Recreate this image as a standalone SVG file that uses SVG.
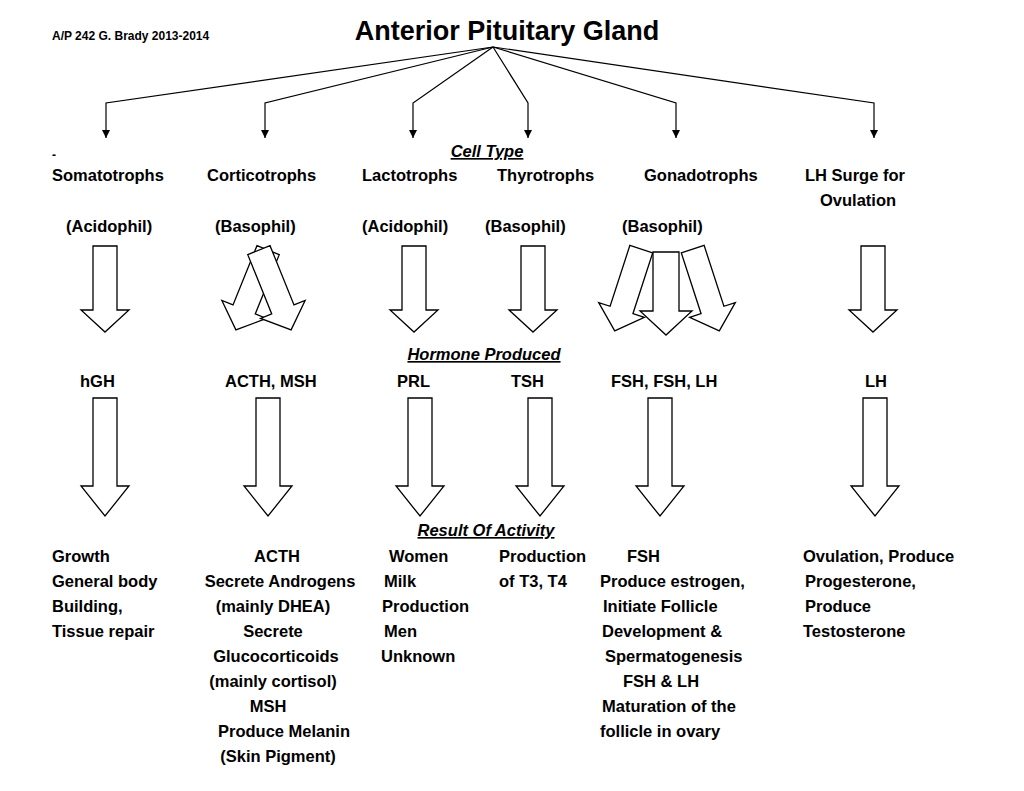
<svg xmlns="http://www.w3.org/2000/svg" width="1024" height="791" viewBox="0 0 1024 791">
<style>
text{font-family:"Liberation Sans",Arial,sans-serif;font-weight:bold;font-size:16.5px;fill:#000}
.t{font-size:27px}
.s{font-size:12px}
.h{font-style:italic;text-decoration:underline}
.ba{fill:#fff;stroke:#000;stroke-width:1.3}
.c{fill:none;stroke:#000;stroke-width:1.2}
</style>
<defs>
<marker id="ah" markerWidth="8" markerHeight="8" refX="4" refY="7" orient="auto-start-reverse" markerUnits="userSpaceOnUse" viewBox="0 0 8 8"><path d="M0,0 L8,0 L4,8z" transform="rotate(-90 4 4)" fill="#000"/></marker>
<path id="sa" d="M-12,-43 H12 V21 H24 L0,43 L-24,21 H-12 Z"/>
<path id="la" d="M-12,-59 H12 V29 H24 L0,59 L-24,29 H-12 Z"/>
</defs>
<rect width="1024" height="791" fill="#fff"/>
<g id="header">
<text x="52" y="40" class="s">A/P 242 G. Brady 2013-2014</text>
<text x="507" y="40" class="t" text-anchor="middle">Anterior Pituitary Gland</text>
</g>
<g id="connectors">
<path class="c" d="M493,47 L106,103 V138"/>
<path class="c" d="M493,47 L265,103 V138"/>
<path class="c" d="M493,47 L413,103 V138"/>
<path class="c" d="M493,47 L528,103 V138"/>
<path class="c" d="M493,47 L676,103 V138"/>
<path class="c" d="M493,47 L874,103 V138"/>
<g fill="#000">
<path d="M102,130 L110,130 L106,138z"/><path d="M261,130 L269,130 L265,138z"/><path d="M409,130 L417,130 L413,138z"/><path d="M524,130 L532,130 L528,138z"/><path d="M672,130 L680,130 L676,138z"/><path d="M870,130 L878,130 L874,138z"/>
</g>
</g>
<g id="labels">
<text x="487" y="157" class="h" text-anchor="middle">Cell Type</text>
<text x="484" y="360" class="h" text-anchor="middle">Hormone Produced</text>
<text x="486" y="536" class="h" text-anchor="middle">Result Of Activity</text>
<text x="52" y="159" class="s">-</text>
</g>
<g id="somatotrophs">
<text x="52" y="181">Somatotrophs</text>
<text x="66" y="232">(Acidophil)</text>
<use href="#sa" class="ba" transform="translate(105,289)"/>
<text x="80" y="387">hGH</text>
<use href="#la" class="ba" transform="translate(105,457)"/>
<text x="52" y="562">Growth</text>
<text x="52" y="587">General body</text>
<text x="52" y="612">Building,</text>
<text x="52" y="637">Tissue repair</text>
</g>
<g id="corticotrophs">
<text x="207" y="181">Corticotrophs</text>
<text x="215" y="232">(Basophil)</text>
<use href="#sa" class="ba" transform="translate(252,290) rotate(22)"/>
<use href="#sa" class="ba" transform="translate(275,290) rotate(-22)"/>
<text x="225" y="387">ACTH,  MSH</text>
<use href="#la" class="ba" transform="translate(268,457)"/>
<g text-anchor="middle">
<text x="277" y="562">ACTH</text>
<text x="280" y="587">Secrete Androgens</text>
<text x="273" y="612">(mainly DHEA)</text>
<text x="273" y="637">Secrete</text>
<text x="276" y="662">Glucocorticoids</text>
<text x="273" y="687">(mainly cortisol)</text>
<text x="268" y="712">MSH</text>
<text x="284" y="737">Produce Melanin</text>
<text x="278" y="762">(Skin Pigment)</text>
</g>
</g>
<g id="lactotrophs">
<text x="362" y="181">Lactotrophs</text>
<text x="362" y="232">(Acidophil)</text>
<use href="#sa" class="ba" transform="translate(414,289)"/>
<text x="397" y="387">PRL</text>
<use href="#la" class="ba" transform="translate(420,457)"/>
<text x="389" y="562">Women</text>
<text x="384" y="587">Milk</text>
<text x="382" y="612">Production</text>
<text x="384" y="637">Men</text>
<text x="381" y="662">Unknown</text>
</g>
<g id="thyrotrophs">
<text x="497" y="181">Thyrotrophs</text>
<text x="485" y="232">(Basophil)</text>
<use href="#sa" class="ba" transform="translate(533,289)"/>
<text x="511" y="387">TSH</text>
<use href="#la" class="ba" transform="translate(540,457)"/>
<text x="499" y="562">Production</text>
<text x="499" y="587">of T3, T4</text>
</g>
<g id="gonadotrophs">
<text x="644" y="181">Gonadotrophs</text>
<text x="622" y="232">(Basophil)</text>
<use href="#sa" class="ba" transform="translate(628,290) rotate(18)"/>
<use href="#sa" class="ba" transform="translate(706,290) rotate(-18)"/>
<path class="ba" d="M653,252 H679 V311 H692 L666,335 L640,311 H653 Z"/>
<text x="611" y="387">FSH,  FSH,  LH</text>
<use href="#la" class="ba" transform="translate(660,457)"/>
<text x="627" y="562">FSH</text>
<text x="600" y="587">Produce estrogen,</text>
<text x="603" y="612">Initiate Follicle</text>
<text x="602" y="637">Development &amp;</text>
<text x="605" y="662">Spermatogenesis</text>
<text x="623" y="687">FSH &amp; LH</text>
<text x="602" y="712">Maturation of the</text>
<text x="600" y="737">follicle in ovary</text>
</g>
<g id="lhsurge">
<text x="805" y="181">LH Surge for</text>
<text x="820" y="206">Ovulation</text>
<use href="#sa" class="ba" transform="translate(873,289)"/>
<text x="865" y="387">LH</text>
<use href="#la" class="ba" transform="translate(875,457)"/>
<text x="803" y="562">Ovulation, Produce</text>
<text x="805" y="587">Progesterone,</text>
<text x="805" y="612">Produce</text>
<text x="803" y="637">Testosterone</text>
</g>
</svg>
